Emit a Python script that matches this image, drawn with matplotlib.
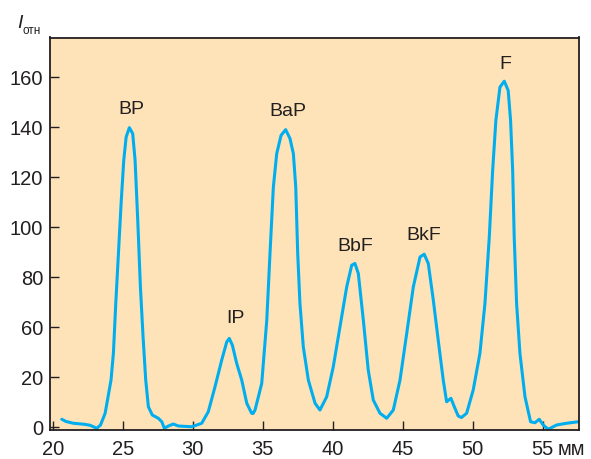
import numpy as np
import matplotlib
matplotlib.use("Agg")
import matplotlib.pyplot as plt

plt.rcParams['font.family'] = ['Liberation Sans', 'DejaVu Sans']

# chromatogram trace: position (mm) and relative intensity
pos_mm = [20.64, 20.95, 21.47, 22.24, 22.66, 23.14, 23.41, 23.74, 24.16, 24.33,
          24.50, 24.69, 24.88, 25.07, 25.24, 25.47, 25.71, 25.88, 26.07, 26.26,
          26.45, 26.64, 26.83, 27.11, 27.54, 27.79, 27.97, 28.26, 28.61, 28.97,
          29.93, 30.64, 31.11, 31.59, 32.07, 32.43, 32.61, 32.83, 33.14, 33.50,
          33.86, 34.21, 34.31, 34.45, 34.69, 34.93, 35.29, 35.52, 35.76, 36.00,
          36.31, 36.64, 36.95, 37.19, 37.36, 37.50, 37.66, 37.90, 38.26, 38.74,
          39.09, 39.57, 40.04, 40.52, 41.00, 41.36, 41.59, 41.83, 42.19, 42.54,
          42.90, 43.38, 43.86, 44.33, 44.81, 45.29, 45.76, 46.24, 46.54, 46.83,
          47.19, 47.54, 47.90, 48.14, 48.45, 48.69, 48.97, 49.20, 49.57, 50.04,
          50.52, 50.88, 51.19, 51.43, 51.66, 51.95, 52.26, 52.54, 52.71, 52.86,
          52.97, 53.14, 53.38, 53.74, 54.14, 54.45, 54.76, 55.04, 55.40, 56.00,
          56.71, 57.54, 57.60]
intensity = [3.1, 2.2, 1.5, 1.1, 0.7, -0.5, 0.8, 5.5, 18.8, 39.0,
             69.5, 89.5, 109.5, 126.8, 136.1, 139.9, 137.5, 126.8, 102.8, 76.1,
             52.2, 18.8, 8.1, 4.8, 3.5, 2.1, -0.5, 0.4, 1.2, 0.4,
             0.1, 1.5, 6.1, 16.1, 33.6, 48.2, 51.0, 45.6, 31.0, 18.8,
             9.5, 5.5, 5.4, 6.8, 12.1, 17.5, 62.8, 89.5, 116.1, 129.5,
             136.8, 139.1, 135.5, 129.5, 116.1, 89.5, 69.5, 44.2, 18.8, 9.5,
             6.8, 12.1, 28.2, 60.1, 76.1, 84.8, 85.5, 81.5, 62.8, 25.6,
             10.8, 5.5, 3.5, 6.8, 18.8, 55.0, 76.1, 88.1, 89.2, 85.5,
             70.8, 49.6, 18.8, 10.1, 11.5, 8.1, 4.4, 3.8, 5.5, 14.8,
             39.0, 69.5, 96.1, 122.8, 142.8, 156.1, 158.5, 154.8, 142.8, 122.8,
             96.1, 69.5, 39.0, 12.1, 2.1, 1.7, 3.1, 0.8, -0.9, 0.8,
             1.5, 2.1, 2.0]

peak_names = ['BP', 'IP', 'BaP', 'BbF', 'BkF', 'F']
peak_label_x = [25.59, 33.02, 36.83, 41.59, 46.52, 52.33]
peak_label_y = [147.1, 63.5, 146.4, 92.4, 96.8, 165.1]

x_ticks = [20, 25, 30, 35, 40, 45, 50, 55]
x_tick_labels = ['20', '25', '30', '35', '40', '45', '50', '55']
y_ticks = [0, 20, 60, 80, 100, 120, 140, 160]

# the printed axis skips 40: ticks are evenly spaced, so 20..60 is squeezed
_vals = [-100, 0, 20, 60, 260]
_spots = [-100, 0, 20, 40, 240]


def fwd(v):
    return np.interp(v, _vals, _spots)


def inv(p):
    return np.interp(p, _spots, _vals)


ink = '#231f20'
fig = plt.figure(figsize=(5.91, 4.59), dpi=100)
ax = fig.add_axes([50 / 591, 1 - 430 / 459, 529 / 591, 392.5 / 459])
ax.set_facecolor('#fee3b9')
ax.set_yscale('function', functions=(fwd, inv))

ax.plot(pos_mm, intensity, color='#00aeef', lw=2.2, solid_joinstyle='round',
        solid_capstyle='round')

for name, lx, ly in zip(peak_names, peak_label_x, peak_label_y):
    ax.text(lx, ly, name, ha='center', va='center', fontsize=14, color=ink)

ax.set_xlim(19.8, 57.6)
ax.set_ylim(-1.2, 176)
ax.set_xticks(x_ticks)
ax.set_xticklabels(x_tick_labels)
ax.set_yticks(y_ticks)
ax.set_yticklabels([str(v) for v in y_ticks])
ax.tick_params(direction='in', length=6.5, width=1.0, color=ink,
               labelsize=14.5, labelcolor=ink, top=False, right=False)
ax.tick_params(axis='x', pad=7)
ax.tick_params(axis='y', pad=5)
for sp in ax.spines.values():
    sp.set_color(ink)
    sp.set_linewidth(1.3)

ax.annotate('мм', xy=(55, 0), xycoords=ax.get_xaxis_transform(),
            xytext=(11, -7), textcoords='offset points',
            ha='left', va='top', fontsize=14.5, color=ink)

fig.text(17 / 591, 1 - 24 / 459, 'I', fontsize=14, style='italic',
         color=ink, ha='left', va='center')
fig.text(22.5 / 591, 1 - 31 / 459, 'отн', fontsize=8.5, color=ink,
         ha='left', va='center')

fig.savefig('out.png', dpi=100)
